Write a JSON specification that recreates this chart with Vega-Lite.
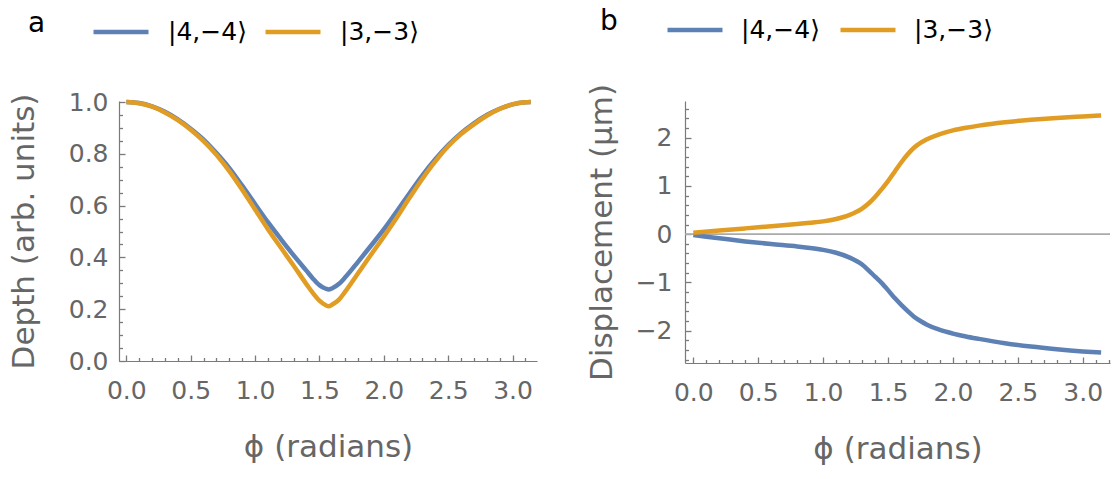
{
  "$schema": "https://vega.github.io/schema/vega-lite/v6.json",
  "padding": {"left": 8, "top": 0, "right": 5, "bottom": 5},
  "spacing": 46,
  "resolve": {"scale": {"color": "independent"}, "legend": {"color": "independent"}},
  "config": {
    "font": "DejaVu Sans",
    "view": {"stroke": null},
    "axis": {
      "grid": false,
      "ticks": true,
      "domainColor": "#7a7a7a",
      "domainWidth": 1.2,
      "tickColor": "#7a7a7a",
      "tickWidth": 1.3,
      "labelColor": "#666666",
      "labelFont": "DejaVu Sans",
      "labelFontSize": 25,
      "titleColor": "#666666",
      "titleFont": "DejaVu Sans",
      "titleFontSize": 31,
      "titleFontWeight": "normal",
      "labelOverlap": false,
      "labelFlush": false
    },
    "legend": {
      "orient": "none",
      "direction": "horizontal",
      "padding": 0,
      "symbolType": "stroke",
      "symbolSize": 3025,
      "symbolStrokeWidth": 4.5,
      "labelFont": "DejaVu Sans",
      "labelFontSize": 25,
      "labelColor": "#000000",
      "titleOrient": "left",
      "titleFont": "DejaVu Sans",
      "titleFontSize": 28,
      "titleFontWeight": "normal",
      "titleColor": "#000000"
    }
  },
  "datasets": {
    "depth": [
      {"phi": 0, "state": "|4,−4⟩", "value": 1.0},
      {"phi": 0.1, "state": "|4,−4⟩", "value": 0.996},
      {"phi": 0.2, "state": "|4,−4⟩", "value": 0.983},
      {"phi": 0.3, "state": "|4,−4⟩", "value": 0.962},
      {"phi": 0.4, "state": "|4,−4⟩", "value": 0.933},
      {"phi": 0.5, "state": "|4,−4⟩", "value": 0.897},
      {"phi": 0.6, "state": "|4,−4⟩", "value": 0.855},
      {"phi": 0.7, "state": "|4,−4⟩", "value": 0.803},
      {"phi": 0.8, "state": "|4,−4⟩", "value": 0.745},
      {"phi": 0.9, "state": "|4,−4⟩", "value": 0.677},
      {"phi": 1.0, "state": "|4,−4⟩", "value": 0.606},
      {"phi": 1.1, "state": "|4,−4⟩", "value": 0.536},
      {"phi": 1.2, "state": "|4,−4⟩", "value": 0.471},
      {"phi": 1.3, "state": "|4,−4⟩", "value": 0.408},
      {"phi": 1.4, "state": "|4,−4⟩", "value": 0.348},
      {"phi": 1.45, "state": "|4,−4⟩", "value": 0.318},
      {"phi": 1.5, "state": "|4,−4⟩", "value": 0.293},
      {"phi": 1.55, "state": "|4,−4⟩", "value": 0.279},
      {"phi": 1.5708, "state": "|4,−4⟩", "value": 0.276},
      {"phi": 1.6, "state": "|4,−4⟩", "value": 0.281},
      {"phi": 1.65, "state": "|4,−4⟩", "value": 0.297},
      {"phi": 1.7, "state": "|4,−4⟩", "value": 0.323},
      {"phi": 1.8, "state": "|4,−4⟩", "value": 0.383},
      {"phi": 1.9, "state": "|4,−4⟩", "value": 0.445},
      {"phi": 2.0, "state": "|4,−4⟩", "value": 0.508},
      {"phi": 2.1, "state": "|4,−4⟩", "value": 0.577},
      {"phi": 2.2, "state": "|4,−4⟩", "value": 0.648},
      {"phi": 2.3, "state": "|4,−4⟩", "value": 0.717},
      {"phi": 2.4, "state": "|4,−4⟩", "value": 0.779},
      {"phi": 2.5, "state": "|4,−4⟩", "value": 0.834},
      {"phi": 2.6, "state": "|4,−4⟩", "value": 0.880},
      {"phi": 2.7, "state": "|4,−4⟩", "value": 0.918},
      {"phi": 2.8, "state": "|4,−4⟩", "value": 0.950},
      {"phi": 2.9, "state": "|4,−4⟩", "value": 0.974},
      {"phi": 3.0, "state": "|4,−4⟩", "value": 0.991},
      {"phi": 3.1, "state": "|4,−4⟩", "value": 0.999},
      {"phi": 3.1416, "state": "|4,−4⟩", "value": 1.0},
      {"phi": 0, "state": "|3,−3⟩", "value": 1.0},
      {"phi": 0.1, "state": "|3,−3⟩", "value": 0.995},
      {"phi": 0.2, "state": "|3,−3⟩", "value": 0.982},
      {"phi": 0.3, "state": "|3,−3⟩", "value": 0.960},
      {"phi": 0.4, "state": "|3,−3⟩", "value": 0.930},
      {"phi": 0.5, "state": "|3,−3⟩", "value": 0.893},
      {"phi": 0.6, "state": "|3,−3⟩", "value": 0.849},
      {"phi": 0.7, "state": "|3,−3⟩", "value": 0.796},
      {"phi": 0.8, "state": "|3,−3⟩", "value": 0.733},
      {"phi": 0.9, "state": "|3,−3⟩", "value": 0.661},
      {"phi": 1.0, "state": "|3,−3⟩", "value": 0.585},
      {"phi": 1.1, "state": "|3,−3⟩", "value": 0.509},
      {"phi": 1.2, "state": "|3,−3⟩", "value": 0.438},
      {"phi": 1.3, "state": "|3,−3⟩", "value": 0.368},
      {"phi": 1.4, "state": "|3,−3⟩", "value": 0.296},
      {"phi": 1.45, "state": "|3,−3⟩", "value": 0.262},
      {"phi": 1.5, "state": "|3,−3⟩", "value": 0.233},
      {"phi": 1.55, "state": "|3,−3⟩", "value": 0.215},
      {"phi": 1.5708, "state": "|3,−3⟩", "value": 0.211},
      {"phi": 1.6, "state": "|3,−3⟩", "value": 0.218},
      {"phi": 1.65, "state": "|3,−3⟩", "value": 0.236},
      {"phi": 1.7, "state": "|3,−3⟩", "value": 0.268},
      {"phi": 1.8, "state": "|3,−3⟩", "value": 0.339},
      {"phi": 1.9, "state": "|3,−3⟩", "value": 0.410},
      {"phi": 2.0, "state": "|3,−3⟩", "value": 0.480},
      {"phi": 2.1, "state": "|3,−3⟩", "value": 0.553},
      {"phi": 2.2, "state": "|3,−3⟩", "value": 0.630},
      {"phi": 2.3, "state": "|3,−3⟩", "value": 0.704},
      {"phi": 2.4, "state": "|3,−3⟩", "value": 0.771},
      {"phi": 2.5, "state": "|3,−3⟩", "value": 0.829},
      {"phi": 2.6, "state": "|3,−3⟩", "value": 0.876},
      {"phi": 2.7, "state": "|3,−3⟩", "value": 0.914},
      {"phi": 2.8, "state": "|3,−3⟩", "value": 0.947},
      {"phi": 2.9, "state": "|3,−3⟩", "value": 0.973},
      {"phi": 3.0, "state": "|3,−3⟩", "value": 0.991},
      {"phi": 3.1, "state": "|3,−3⟩", "value": 0.999},
      {"phi": 3.1416, "state": "|3,−3⟩", "value": 1.0}
    ],
    "displacement": [
      {"phi": 0, "state": "|4,−4⟩", "value": -0.02},
      {"phi": 0.2, "state": "|4,−4⟩", "value": -0.085},
      {"phi": 0.4, "state": "|4,−4⟩", "value": -0.15},
      {"phi": 0.6, "state": "|4,−4⟩", "value": -0.205},
      {"phi": 0.8, "state": "|4,−4⟩", "value": -0.255},
      {"phi": 0.9, "state": "|4,−4⟩", "value": -0.285},
      {"phi": 1.0, "state": "|4,−4⟩", "value": -0.325},
      {"phi": 1.1, "state": "|4,−4⟩", "value": -0.385},
      {"phi": 1.2, "state": "|4,−4⟩", "value": -0.48},
      {"phi": 1.3, "state": "|4,−4⟩", "value": -0.63},
      {"phi": 1.35, "state": "|4,−4⟩", "value": -0.75},
      {"phi": 1.4, "state": "|4,−4⟩", "value": -0.88},
      {"phi": 1.45, "state": "|4,−4⟩", "value": -1.01},
      {"phi": 1.5, "state": "|4,−4⟩", "value": -1.16},
      {"phi": 1.55, "state": "|4,−4⟩", "value": -1.32},
      {"phi": 1.6, "state": "|4,−4⟩", "value": -1.46},
      {"phi": 1.65, "state": "|4,−4⟩", "value": -1.59},
      {"phi": 1.7, "state": "|4,−4⟩", "value": -1.71},
      {"phi": 1.75, "state": "|4,−4⟩", "value": -1.80},
      {"phi": 1.8, "state": "|4,−4⟩", "value": -1.875},
      {"phi": 1.9, "state": "|4,−4⟩", "value": -1.985},
      {"phi": 2.0, "state": "|4,−4⟩", "value": -2.06},
      {"phi": 2.1, "state": "|4,−4⟩", "value": -2.12},
      {"phi": 2.2, "state": "|4,−4⟩", "value": -2.17},
      {"phi": 2.4, "state": "|4,−4⟩", "value": -2.26},
      {"phi": 2.6, "state": "|4,−4⟩", "value": -2.33},
      {"phi": 2.8, "state": "|4,−4⟩", "value": -2.385},
      {"phi": 3.0, "state": "|4,−4⟩", "value": -2.43},
      {"phi": 3.1416, "state": "|4,−4⟩", "value": -2.455},
      {"phi": 0, "state": "|3,−3⟩", "value": 0.03},
      {"phi": 0.2, "state": "|3,−3⟩", "value": 0.075},
      {"phi": 0.4, "state": "|3,−3⟩", "value": 0.12},
      {"phi": 0.6, "state": "|3,−3⟩", "value": 0.165},
      {"phi": 0.8, "state": "|3,−3⟩", "value": 0.21},
      {"phi": 0.9, "state": "|3,−3⟩", "value": 0.235},
      {"phi": 1.0, "state": "|3,−3⟩", "value": 0.265},
      {"phi": 1.1, "state": "|3,−3⟩", "value": 0.315},
      {"phi": 1.2, "state": "|3,−3⟩", "value": 0.395},
      {"phi": 1.3, "state": "|3,−3⟩", "value": 0.53},
      {"phi": 1.35, "state": "|3,−3⟩", "value": 0.635},
      {"phi": 1.4, "state": "|3,−3⟩", "value": 0.77},
      {"phi": 1.45, "state": "|3,−3⟩", "value": 0.93},
      {"phi": 1.5, "state": "|3,−3⟩", "value": 1.10},
      {"phi": 1.55, "state": "|3,−3⟩", "value": 1.29},
      {"phi": 1.6, "state": "|3,−3⟩", "value": 1.48},
      {"phi": 1.65, "state": "|3,−3⟩", "value": 1.65},
      {"phi": 1.7, "state": "|3,−3⟩", "value": 1.79},
      {"phi": 1.75, "state": "|3,−3⟩", "value": 1.89},
      {"phi": 1.8, "state": "|3,−3⟩", "value": 1.965},
      {"phi": 1.9, "state": "|3,−3⟩", "value": 2.075},
      {"phi": 2.0, "state": "|3,−3⟩", "value": 2.15},
      {"phi": 2.1, "state": "|3,−3⟩", "value": 2.205},
      {"phi": 2.2, "state": "|3,−3⟩", "value": 2.25},
      {"phi": 2.4, "state": "|3,−3⟩", "value": 2.32},
      {"phi": 2.6, "state": "|3,−3⟩", "value": 2.37},
      {"phi": 2.8, "state": "|3,−3⟩", "value": 2.41},
      {"phi": 3.0, "state": "|3,−3⟩", "value": 2.44},
      {"phi": 3.1416, "state": "|3,−3⟩", "value": 2.46}
    ]
  },
  "hconcat": [
    {
      "width": 418,
      "height": 260,
      "data": {"name": "depth"},
      "mark": {"type": "line", "strokeWidth": 4.5, "interpolate": "monotone"},
      "encoding": {
        "x": {
          "field": "phi", "type": "quantitative",
          "scale": {"domain": [-0.057, 3.19], "nice": false, "zero": false},
          "axis": {
            "title": "ϕ (radians)",
            "values": [0, 0.1, 0.2, 0.3, 0.4, 0.5, 0.6, 0.7, 0.8, 0.9, 1, 1.1, 1.2, 1.3, 1.4, 1.5, 1.6, 1.7, 1.8, 1.9, 2, 2.1, 2.2, 2.3, 2.4, 2.5, 2.6, 2.7, 2.8, 2.9, 3, 3.1],
            "labelExpr": "abs(datum.value*2-round(datum.value*2))<0.001 ? format(datum.value, '.1f') : ''",
            "tickSize": {"condition": {"test": "abs(datum.value*2-round(datum.value*2))<0.001", "value": -6}, "value": -3.5},
            "labelPadding": 23,
            "titlePadding": 27
          }
        },
        "y": {
          "field": "value", "type": "quantitative",
          "scale": {"domain": [0, 1.004], "nice": false, "zero": false},
          "axis": {
            "title": "Depth (arb. units)",
            "values": [0, 0.05, 0.1, 0.15, 0.2, 0.25, 0.3, 0.35, 0.4, 0.45, 0.5, 0.55, 0.6, 0.65, 0.7, 0.75, 0.8, 0.85, 0.9, 0.95, 1],
            "labelExpr": "abs(datum.value*5-round(datum.value*5))<0.001 ? format(datum.value, '.1f') : ''",
            "tickSize": {"condition": {"test": "abs(datum.value*5-round(datum.value*5))<0.001", "value": -6}, "value": -3.5},
            "labelPadding": 17,
            "titlePadding": 28
          }
        },
        "color": {
          "field": "state", "type": "nominal",
          "scale": {"domain": ["|4,−4⟩", "|3,−3⟩"], "range": ["#5E81B5", "#E19C24"]},
          "legend": {"title": "a", "titlePadding": 45, "legendX": -91, "legendY": -99, "labelOffset": 17, "columnPadding": 9}
        }
      }
    },
    {
      "width": 425,
      "height": 262,
      "encoding": {
        "y": {
          "field": "value", "type": "quantitative",
          "scale": {"domain": [-2.67, 2.76], "nice": false, "zero": false},
          "axis": {
            "title": "Displacement (μm)",
            "values": [-2.6, -2.4, -2.2, -2, -1.8, -1.6, -1.4, -1.2, -1, -0.8, -0.6, -0.4, -0.2, 0, 0.2, 0.4, 0.6, 0.8, 1, 1.2, 1.4, 1.6, 1.8, 2, 2.2, 2.4, 2.6],
            "labelExpr": "abs(datum.value-round(datum.value))<0.001 ? format(round(datum.value), 'd') : ''",
            "tickSize": {"condition": {"test": "abs(datum.value-round(datum.value))<0.001", "value": -6}, "value": -3.5},
            "labelOverlap": false,
            "labelPadding": 19,
            "titlePadding": 17
          }
        }
      },
      "layer": [
        {
          "data": {"values": [{"value": 0}]},
          "mark": {"type": "rule", "color": "#aaaaaa", "strokeWidth": 1.6}
        },
        {
          "data": {"name": "displacement"},
          "mark": {"type": "line", "strokeWidth": 4.5, "interpolate": "monotone"},
          "encoding": {
            "x": {
              "field": "phi", "type": "quantitative",
              "scale": {"domain": [-0.064, 3.21], "nice": false, "zero": false},
              "axis": {
                "title": "ϕ (radians)",
                "values": [0, 0.1, 0.2, 0.3, 0.4, 0.5, 0.6, 0.7, 0.8, 0.9, 1, 1.1, 1.2, 1.3, 1.4, 1.5, 1.6, 1.7, 1.8, 1.9, 2, 2.1, 2.2, 2.3, 2.4, 2.5, 2.6, 2.7, 2.8, 2.9, 3, 3.1, 3.2],
                "labelExpr": "abs(datum.value*2-round(datum.value*2))<0.001 ? format(datum.value, '.1f') : ''",
                "tickSize": {"condition": {"test": "abs(datum.value*2-round(datum.value*2))<0.001", "value": -6}, "value": -3.5},
                "labelPadding": 23,
                "titlePadding": 27
              }
            },
            "color": {
              "field": "state", "type": "nominal",
              "scale": {"domain": ["|4,−4⟩", "|3,−3⟩"], "range": ["#5E81B5", "#E19C24"]},
              "legend": {"title": "b", "titlePadding": 47, "legendX": -85, "legendY": -101, "labelOffset": 16, "columnPadding": 11}
            }
          }
        }
      ]
    }
  ]
}
